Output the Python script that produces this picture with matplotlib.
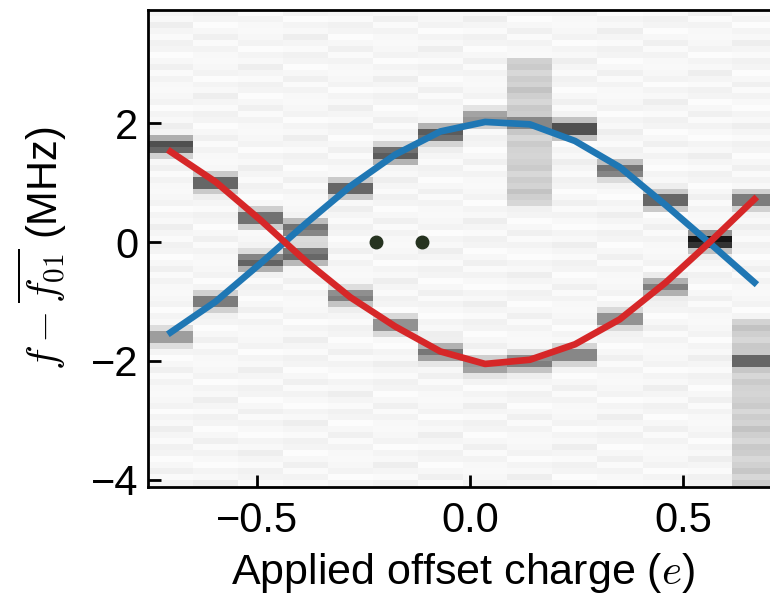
import numpy as np
import matplotlib
matplotlib.use("Agg")
import matplotlib.pyplot as plt

plt.rcParams['font.family'] = ['Liberation Sans', 'DejaVu Sans']
plt.rcParams['mathtext.fontset'] = 'cm'

# applied offset charge (e) of each measured column
charge = [-0.703, -0.597, -0.492, -0.386, -0.281, -0.176, -0.070,
          0.035, 0.140, 0.246, 0.351, 0.459, 0.564, 0.667]

# spectral peaks in each column: (frequency MHz, darkness)
peaks = [
    [(1.62, 0.75), (-1.60, 0.45)],
    [(1.00, 0.70), (-1.00, 0.60)],
    [(0.40, 0.65), (-0.33, 0.65)],
    [(0.22, 0.60), (-0.22, 0.65)],
    [(0.90, 0.70), (-0.92, 0.55)],
    [(1.48, 0.70), (-1.40, 0.50)],
    [(1.82, 0.70), (-1.86, 0.55)],
    [(2.08, 0.45), (-2.08, 0.45)],
    [(2.00, 0.55), (-2.02, 0.55)],
    [(1.90, 0.80), (-1.90, 0.55)],
    [(1.22, 0.60), (-1.30, 0.50)],
    [(0.70, 0.70), (-0.75, 0.50)],
    [(0.02, 1.00)],
    [(0.70, 0.60), (-2.00, 0.70)],
]
# wider grey patches: (column, f_low, f_high, darkness)
patches = [(8, 0.6, 3.1, 0.13), (13, -4.2, -1.3, 0.13)]

# light background speckle of the spectra
speckle = [0.03, 0.05, 0.02, 0.06, 0.035, 0.015, 0.045, 0.055, 0.02, 0.04,
           0.07, 0.03, 0.045, 0.015, 0.05, 0.035, 0.025]

# fitted transition frequencies at each charge
upper = [-1.52, -1.00, -0.36, 0.31, 0.94, 1.47, 1.86, 2.02, 1.98, 1.70,
         1.26, 0.62, -0.03, -0.68]
lower = [1.52, 1.01, 0.37, -0.32, -0.93, -1.42, -1.84, -2.05, -1.98, -1.72,
         -1.30, -0.68, 0.01, 0.72]

dot_q = [-0.220, -0.112]
dot_f = [0.0, 0.0]

freq = np.arange(-4.15, 3.95, 0.1)
img = np.zeros((len(freq), len(charge)))
for j in range(len(charge)):
    img[:, j] = np.roll(np.resize(speckle, len(freq)), 5 * j)
for j, lo, hi, a in patches:
    sel = (freq > lo) & (freq < hi)
    img[sel, j] = a + 1.5 * img[sel, j]
for j in range(len(charge)):
    for f0, a in peaks[j]:
        w = np.interp(np.abs(freq - f0), [0, 0.07, 0.15, 0.25], [1, 0.8, 0.3, 0])
        img[:, j] = np.maximum(img[:, j], a * w)

fig = plt.figure(figsize=(7.7, 5.99), dpi=100)
ax = fig.add_axes([0.1922, 0.187, 0.8169, 0.796])
ax.pcolormesh(charge, freq, img, cmap='gray_r', vmin=0, vmax=1, shading='nearest')
ax.plot(charge, upper, color='#1f77b4', lw=4.8)
ax.plot(charge, lower, color='#d62728', lw=4.8)
ax.plot(dot_q, dot_f, 'o', color='#263320', ms=9)

ax.set_xlim(-0.756, 0.72)
ax.set_ylim(-4.12, 3.9)
ax.set_xticks([-0.5, 0.0, 0.5])
ax.set_yticks([-4, -2, 0, 2])
ax.tick_params(direction='in', length=9, width=2, labelsize=30, pad=7)
ax.tick_params(axis='x', pad=10)
for s in ax.spines.values():
    s.set_linewidth(2)
ax.set_xlabel('Applied offset charge ($e$)', fontsize=31, labelpad=7)
ax.set_ylabel(r'$f - \overline{f_{01}}$ (MHz)', fontsize=30, labelpad=16)

fig.savefig('out.png', dpi=100)
